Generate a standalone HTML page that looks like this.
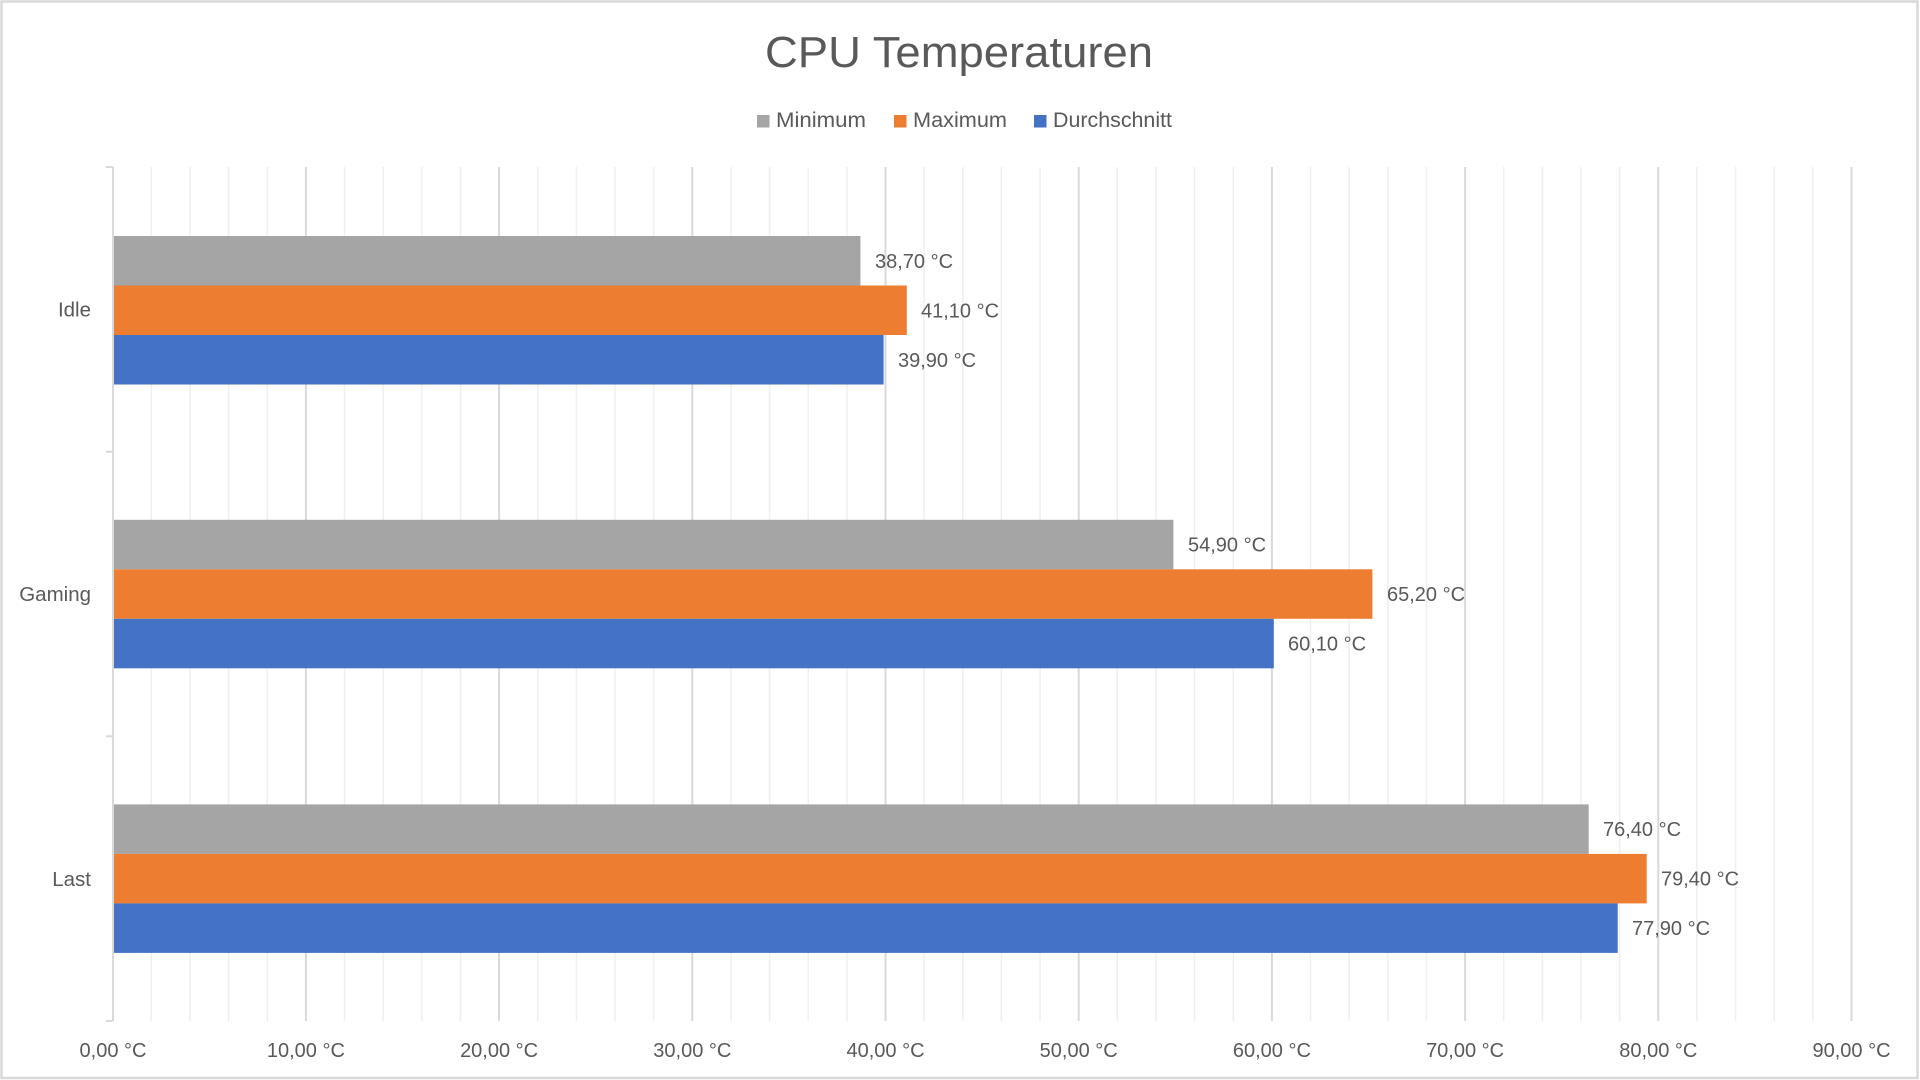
<!DOCTYPE html>
<html>
<head>
<meta charset="utf-8">
<style>
html,body{margin:0;padding:0;background:#fff;}
svg{display:block;}
text{font-family:"Liberation Sans",sans-serif;fill:#595959;}
</style>
</head>
<body>
<svg width="1920" height="1080" viewBox="0 0 1920 1080" xmlns="http://www.w3.org/2000/svg">
<rect x="0" y="0" width="1920" height="1080" fill="#fff"/>
<rect x="1.5" y="1.5" width="1916" height="1076.5" fill="none" stroke="#d9d9d9" stroke-width="2.5"/>

<!-- title -->
<text x="765" y="67" font-size="44" textLength="388" lengthAdjust="spacingAndGlyphs">CPU Temperaturen</text>

<!-- legend -->
<rect x="757" y="115" width="12.5" height="12.5" fill="#a5a5a5"/>
<text x="776" y="127" font-size="21" textLength="90" lengthAdjust="spacingAndGlyphs">Minimum</text>
<rect x="894" y="115" width="12.5" height="12.5" fill="#ed7d31"/>
<text x="913" y="127" font-size="21" textLength="94" lengthAdjust="spacingAndGlyphs">Maximum</text>
<rect x="1034" y="115" width="12.5" height="12.5" fill="#4472c4"/>
<text x="1053" y="127" font-size="21" textLength="119" lengthAdjust="spacingAndGlyphs">Durchschnitt</text>

<!-- minor gridlines -->
<g stroke="#efefef" stroke-width="1.5">
<line x1="151.3" y1="167" x2="151.3" y2="1021"/>
<line x1="190.0" y1="167" x2="190.0" y2="1021"/>
<line x1="228.6" y1="167" x2="228.6" y2="1021"/>
<line x1="267.3" y1="167" x2="267.3" y2="1021"/>
<line x1="344.5" y1="167" x2="344.5" y2="1021"/>
<line x1="383.2" y1="167" x2="383.2" y2="1021"/>
<line x1="421.8" y1="167" x2="421.8" y2="1021"/>
<line x1="460.5" y1="167" x2="460.5" y2="1021"/>
<line x1="537.7" y1="167" x2="537.7" y2="1021"/>
<line x1="576.4" y1="167" x2="576.4" y2="1021"/>
<line x1="615.0" y1="167" x2="615.0" y2="1021"/>
<line x1="653.7" y1="167" x2="653.7" y2="1021"/>
<line x1="730.9" y1="167" x2="730.9" y2="1021"/>
<line x1="769.6" y1="167" x2="769.6" y2="1021"/>
<line x1="808.2" y1="167" x2="808.2" y2="1021"/>
<line x1="846.9" y1="167" x2="846.9" y2="1021"/>
<line x1="924.1" y1="167" x2="924.1" y2="1021"/>
<line x1="962.8" y1="167" x2="962.8" y2="1021"/>
<line x1="1001.4" y1="167" x2="1001.4" y2="1021"/>
<line x1="1040.1" y1="167" x2="1040.1" y2="1021"/>
<line x1="1117.3" y1="167" x2="1117.3" y2="1021"/>
<line x1="1156.0" y1="167" x2="1156.0" y2="1021"/>
<line x1="1194.6" y1="167" x2="1194.6" y2="1021"/>
<line x1="1233.3" y1="167" x2="1233.3" y2="1021"/>
<line x1="1310.5" y1="167" x2="1310.5" y2="1021"/>
<line x1="1349.2" y1="167" x2="1349.2" y2="1021"/>
<line x1="1387.8" y1="167" x2="1387.8" y2="1021"/>
<line x1="1426.5" y1="167" x2="1426.5" y2="1021"/>
<line x1="1503.7" y1="167" x2="1503.7" y2="1021"/>
<line x1="1542.4" y1="167" x2="1542.4" y2="1021"/>
<line x1="1581.0" y1="167" x2="1581.0" y2="1021"/>
<line x1="1619.7" y1="167" x2="1619.7" y2="1021"/>
<line x1="1696.9" y1="167" x2="1696.9" y2="1021"/>
<line x1="1735.6" y1="167" x2="1735.6" y2="1021"/>
<line x1="1774.2" y1="167" x2="1774.2" y2="1021"/>
<line x1="1812.9" y1="167" x2="1812.9" y2="1021"/>
</g>
<!-- major gridlines -->
<g stroke="#d9d9d9" stroke-width="2">
<line x1="305.9" y1="167" x2="305.9" y2="1021"/>
<line x1="499.1" y1="167" x2="499.1" y2="1021"/>
<line x1="692.3" y1="167" x2="692.3" y2="1021"/>
<line x1="885.5" y1="167" x2="885.5" y2="1021"/>
<line x1="1078.7" y1="167" x2="1078.7" y2="1021"/>
<line x1="1271.9" y1="167" x2="1271.9" y2="1021"/>
<line x1="1465.1" y1="167" x2="1465.1" y2="1021"/>
<line x1="1658.3" y1="167" x2="1658.3" y2="1021"/>
<line x1="1851.5" y1="167" x2="1851.5" y2="1021"/>
</g>

<!-- y axis -->
<g stroke="#d9d9d9" stroke-width="2">
<line x1="113" y1="167" x2="113" y2="1021"/>
<line x1="106" y1="167" x2="113" y2="167"/>
<line x1="106" y1="451.7" x2="113" y2="451.7"/>
<line x1="106" y1="736.3" x2="113" y2="736.3"/>
<line x1="106" y1="1021" x2="113" y2="1021"/>
</g>

<!-- bars: Idle -->
<rect x="114" y="236" width="746.4" height="49.5" fill="#a5a5a5"/>
<rect x="114" y="285.5" width="792.8" height="49.5" fill="#ed7d31"/>
<rect x="114" y="335" width="769.6" height="49.5" fill="#4472c4"/>
<!-- Gaming -->
<rect x="114" y="519.8" width="1059.4" height="49.5" fill="#a5a5a5"/>
<rect x="114" y="569.3" width="1258.4" height="49.5" fill="#ed7d31"/>
<rect x="114" y="618.8" width="1159.8" height="49.5" fill="#4472c4"/>
<!-- Last -->
<rect x="114" y="804.4" width="1474.7" height="49.5" fill="#a5a5a5"/>
<rect x="114" y="853.9" width="1532.7" height="49.5" fill="#ed7d31"/>
<rect x="114" y="903.4" width="1503.7" height="49.5" fill="#4472c4"/>

<!-- data labels -->
<g font-size="20">
<text x="875" y="268">38,70 °C</text>
<text x="921" y="317.5">41,10 °C</text>
<text x="898" y="367">39,90 °C</text>
<text x="1188" y="551.5">54,90 °C</text>
<text x="1387" y="601">65,20 °C</text>
<text x="1288" y="650.5">60,10 °C</text>
<text x="1603" y="836">76,40 °C</text>
<text x="1661" y="885.5">79,40 °C</text>
<text x="1632" y="935">77,90 °C</text>
</g>

<!-- category labels -->
<g font-size="20.5" text-anchor="end">
<text x="91" y="316.5">Idle</text>
<text x="91" y="601">Gaming</text>
<text x="91" y="886">Last</text>
</g>

<!-- x axis labels -->
<g font-size="20" text-anchor="middle">
<text x="113" y="1057">0,00 °C</text>
<text x="305.9" y="1057">10,00 °C</text>
<text x="499.1" y="1057">20,00 °C</text>
<text x="692.3" y="1057">30,00 °C</text>
<text x="885.5" y="1057">40,00 °C</text>
<text x="1078.7" y="1057">50,00 °C</text>
<text x="1271.9" y="1057">60,00 °C</text>
<text x="1465.1" y="1057">70,00 °C</text>
<text x="1658.3" y="1057">80,00 °C</text>
<text x="1851.5" y="1057">90,00 °C</text>
</g>
</svg>
</body>
</html>
